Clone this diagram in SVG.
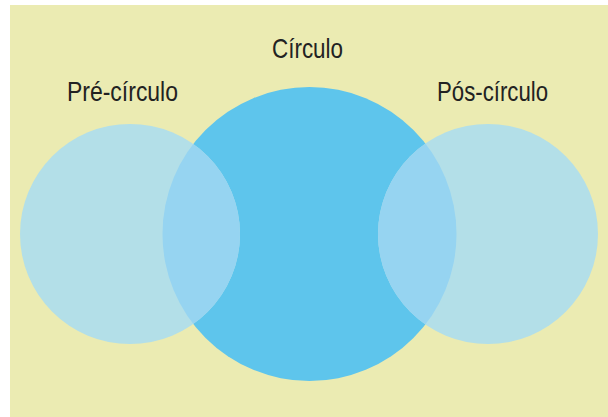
<svg xmlns="http://www.w3.org/2000/svg" width="608" height="417" viewBox="0 0 608 417">
<style>
.lbl{font-family:"Liberation Sans",Arial,sans-serif;font-size:28px;fill:#222;}
.side{fill:#b3dfe8;}
.core{fill:#5ec5ec;}
.ov{fill:#96d4f1;}
</style>
<defs>
<clipPath id="cc"><circle cx="309.5" cy="234" r="147"/></clipPath>
</defs>
<rect x="0" y="0" width="608" height="417" fill="#ffffff"/>
<rect x="10" y="5" width="598" height="412" fill="#ebebb2"/>
<g id="circulo">
<circle class="core" cx="309.5" cy="234" r="147"/>
<text class="lbl" x="272" y="58" textLength="71" lengthAdjust="spacingAndGlyphs">Círculo</text>
</g>
<g id="pre-circulo">
<circle class="side" cx="130" cy="234" r="110"/>
<circle class="ov" cx="130" cy="234" r="110" clip-path="url(#cc)"/>
<text class="lbl" x="67" y="101" textLength="111" lengthAdjust="spacingAndGlyphs">Pré-círculo</text>
</g>
<g id="pos-circulo">
<circle class="side" cx="488" cy="234" r="110"/>
<circle class="ov" cx="488" cy="234" r="110" clip-path="url(#cc)"/>
<text class="lbl" x="437" y="101" textLength="111" lengthAdjust="spacingAndGlyphs">Pós-círculo</text>
</g>
<g id="connectors"></g>
</svg>
